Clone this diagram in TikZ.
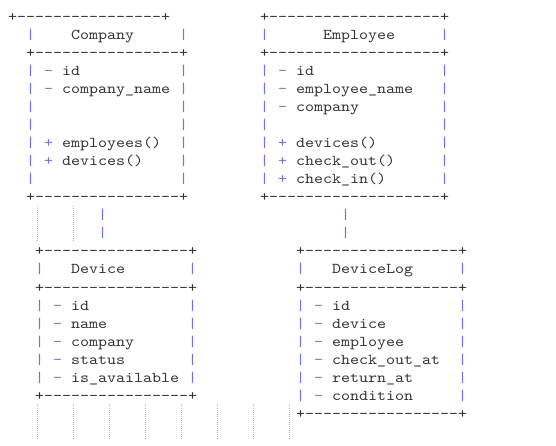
\documentclass[tikz,border=0pt]{standalone}
\usepackage{fontspec}
\setmonofont{lmmono10-regular.otf}[FakeStretch=1.143]
\definecolor{ink}{HTML}{333333}
\definecolor{markc}{HTML}{7474DC}
\definecolor{guidec}{HTML}{BBBBBB}
\newcommand\dashrun[1]{\foreach\i in {1,...,#1}{-\kern0pt}}
\newcommand\putc[5]{\node[#4] (#1) at ({9*(#2)-1},{22+18*(#3)}) {#5};}
\newcommand\borderrow[4]{\putc{#1}{#2}{#3}{txt}{+\dashrun{#4}+}}
\newcommand\boxrow[6]{%
  \putc{#1l}{#2}{#4}{mk}{|}\putc{#1r}{#3}{#4}{mk}{|}%
  \if\relax\detokenize{#5}\relax\else
    \putc{#1m}{#2+2}{#4}{mk}{#5}\putc{#1t}{#2+4}{#4}{txt}{#6}%
  \fi}
\begin{document}
\begin{tikzpicture}[x=1bp,y=-1bp,
  txt/.style={anchor=base west,inner sep=0pt,outer sep=0pt,
    font=\ttfamily\fontsize{15bp}{18bp}\selectfont,text=ink},
  mk/.style={txt,text=markc},
  guideline/.style={guidec,line width=0.6bp,dash pattern=on 1bp off 1bp}]
\useasboundingbox (0,0) rectangle (556,446);
% indent guides
\foreach \k in {0,1} \draw[guideline] ({37+36*\k},206) -- ({37+36*\k},242);
\foreach \k in {0,...,7} \draw[guideline] ({37+36*\k},404) -- ({37+36*\k},440);
% Company
\borderrow{ca}{1}{0}{16}
\putc{c1l}{3}{1}{mk}{|}\putc{ctitle}{8}{1}{txt}{Company}\putc{c1r}{20}{1}{mk}{|}
\borderrow{cb}{3}{2}{16}
\boxrow{c3}{3}{20}{3}{-}{id}
\boxrow{c4}{3}{20}{4}{-}{company\_name}
\boxrow{c5}{3}{20}{5}{}{}
\boxrow{c6}{3}{20}{6}{}{}
\boxrow{c7}{3}{20}{7}{+}{employees()}
\boxrow{c8}{3}{20}{8}{+}{devices()}
\boxrow{c9}{3}{20}{9}{}{}
\borderrow{cc}{3}{10}{16}
% Employee
\borderrow{ea}{29}{0}{19}
\putc{e1l}{29}{1}{mk}{|}\putc{etitle}{36}{1}{txt}{Employee}\putc{e1r}{49}{1}{mk}{|}
\borderrow{eb}{29}{2}{19}
\boxrow{e3}{29}{49}{3}{-}{id}
\boxrow{e4}{29}{49}{4}{-}{employee\_name}
\boxrow{e5}{29}{49}{5}{-}{company}
\boxrow{e6}{29}{49}{6}{}{}
\boxrow{e7}{29}{49}{7}{+}{devices()}
\boxrow{e8}{29}{49}{8}{+}{check\_out()}
\boxrow{e9}{29}{49}{9}{+}{check\_in()}
\borderrow{ec}{29}{10}{19}
% connectors
\putc{p1a}{11}{11}{mk}{|}\putc{p1b}{11}{12}{mk}{|}
\putc{p2a}{38}{11}{mk}{|}\putc{p2b}{38}{12}{mk}{|}
% Device
\borderrow{da}{4}{13}{16}
\putc{d14l}{4}{14}{mk}{|}\putc{dtitle}{8}{14}{txt}{Device}\putc{d14r}{21}{14}{mk}{|}
\borderrow{db}{4}{15}{16}
\boxrow{d16}{4}{21}{16}{-}{id}
\boxrow{d17}{4}{21}{17}{-}{name}
\boxrow{d18}{4}{21}{18}{-}{company}
\boxrow{d19}{4}{21}{19}{-}{status}
\boxrow{d20}{4}{21}{20}{-}{is\_available}
\borderrow{dc}{4}{21}{16}
% DeviceLog
\borderrow{la}{33}{13}{17}
\putc{l14l}{33}{14}{mk}{|}\putc{ltitle}{37}{14}{txt}{DeviceLog}\putc{l14r}{51}{14}{mk}{|}
\borderrow{lb}{33}{15}{17}
\boxrow{l16}{33}{51}{16}{-}{id}
\boxrow{l17}{33}{51}{17}{-}{device}
\boxrow{l18}{33}{51}{18}{-}{employee}
\boxrow{l19}{33}{51}{19}{-}{check\_out\_at}
\boxrow{l20}{33}{51}{20}{-}{return\_at}
\boxrow{l21}{33}{51}{21}{-}{condition}
\borderrow{lc}{33}{22}{17}
\end{tikzpicture}
\end{document}
